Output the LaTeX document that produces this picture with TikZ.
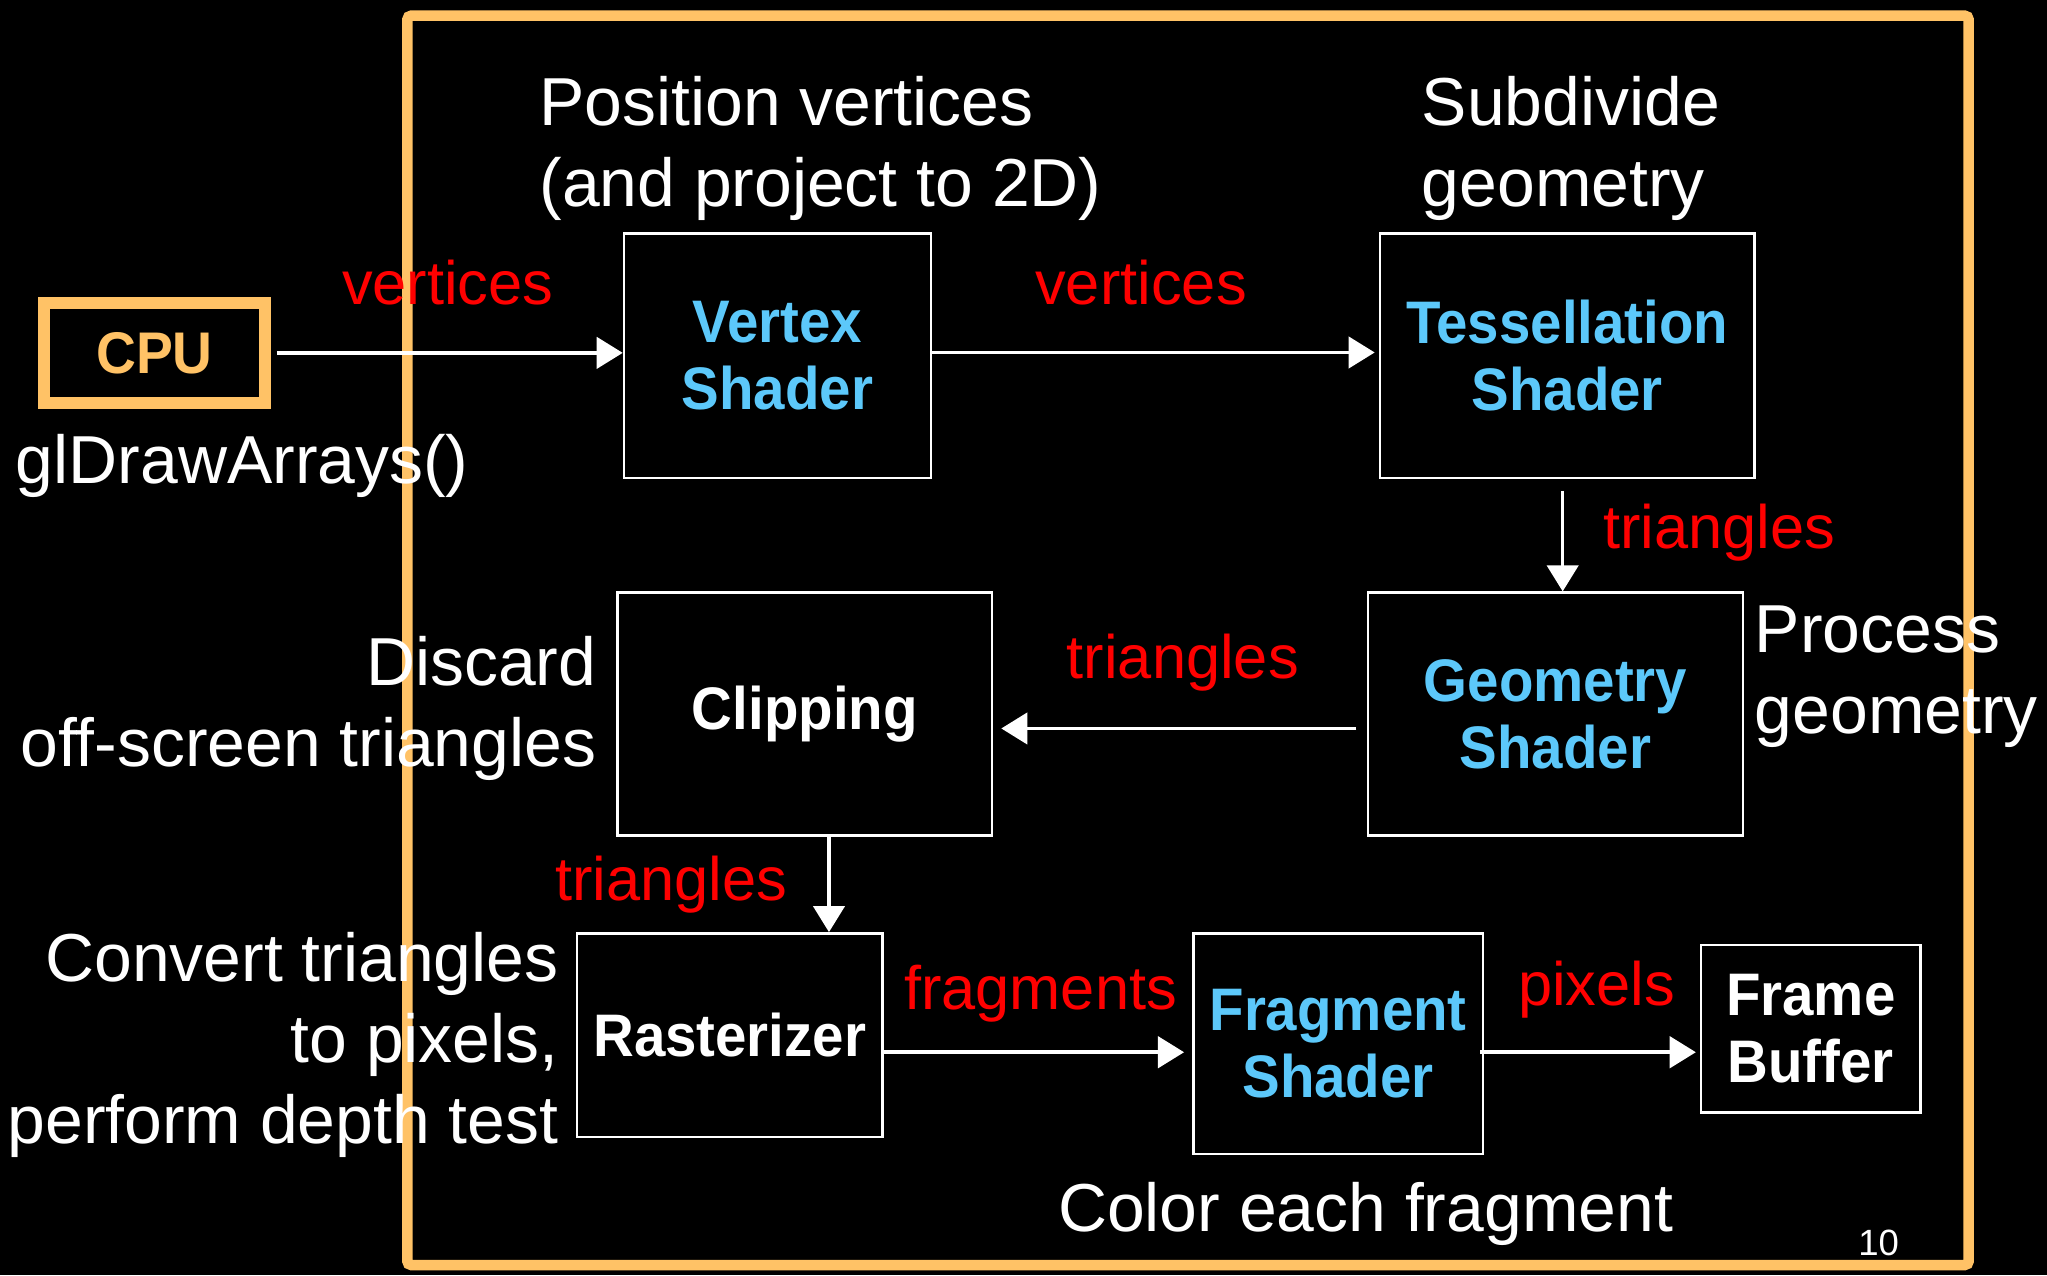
\documentclass[tikz,border=0pt]{standalone}
\usepackage{fontspec}
\setmainfont{Liberation Sans}
\newfontfamily\boxfont{Liberation Sans}[FakeStretch=0.94]
\usetikzlibrary{arrows.meta}
\definecolor{frameor}{RGB}{255,194,102}
\definecolor{skyb}{RGB}{92,200,250}
\definecolor{lblred}{RGB}{255,0,0}
\tikzset{
  box/.style={draw=white, line width=2pt, fill=black, align=center, inner sep=0pt,
    text=skyb, font=\boxfont\fontsize{46}{51}\bfseries\selectfont},
  wbox/.style={box, text=white},
  arr/.style={draw=white, line width=2.7pt, -{Triangle[length=20pt,width=24pt]}},
  lbl/.style={text=lblred, font=\fontsize{47}{56}\selectfont, inner sep=0pt, anchor=base},
  note/.style={text=white, font=\fontsize{52}{62}\selectfont, inner sep=0pt},
}
\begin{document}
\begin{tikzpicture}[x=1pt,y=-1pt]
\useasboundingbox (0,0) rectangle (1568,977);
\fill[black] (0,0) rectangle (1568,977);
% big frame
\draw[frameor, line width=8pt, rounded corners=3pt] (312,12) rectangle (1508,969);
% boxes
\node[draw=frameor, line width=9pt, fill=black, minimum width=169.5, minimum height=76.5, inner sep=0pt,
  text=frameor, font=\boxfont\fontsize{45}{50}\bfseries\selectfont] (cpu) at (118.3,270.3) {CPU};
\node[box, minimum width=235, minimum height=187] (vs) at (595.5,272.5) {Vertex\\Shader};
\node[box, minimum width=287, minimum height=187] (ts) at (1200.5,272.5) {Tessellation\\Shader};
\node[box, minimum width=287, minimum height=186] (gs) at (1191.5,547) {Geometry\\Shader};
\node[wbox, minimum width=287, minimum height=186] (clip) at (616.5,547) {Clipping};
\node[wbox, minimum width=234, minimum height=156] (rast) at (559,793) {Rasterizer};
\node[box, minimum width=222, minimum height=169] (fs) at (1025,799.5) {Fragment\\Shader};
\node[wbox, minimum width=168, minimum height=128] (fb) at (1387,788) {Frame\\Buffer};
% arrows
\draw[arr] ([xshift=4.5pt]cpu.east) -- (cpu.east -| vs.west);
\draw[arr] ([yshift=2.5pt]vs.east) -- ([yshift=2.5pt,xshift=-3pt]vs.east -| ts.west);
\draw[arr] ([xshift=-3.5pt,yshift=-9pt]ts.south) -- ([xshift=-3.5pt]ts.south |- gs.north);
\draw[arr] ([xshift=-8pt,yshift=-11pt]gs.west) -- ([xshift=6pt,yshift=-11pt]clip.east);
\draw[arr] ([xshift=18.5pt]clip.south) -- ([xshift=18.5pt]clip.south |- rast.north);
\draw[arr] ([yshift=-13pt]rast.east) -- ([yshift=-13pt,xshift=-6pt]rast.east -| fs.west);
\draw[arr] ([yshift=-6.5pt,xshift=-3pt]fs.east) -- ([yshift=-6.5pt,xshift=-3pt]fs.east -| fb.west);
% red labels
\node[lbl] (l1) at (343,233) {vertices};
\node[lbl] (l2) at (874,233) {vertices};
\node[lbl, anchor=base west] (l3) at (1228,420) {triangles};
\node[lbl] (l4) at (906,520) {triangles};
\node[lbl] (l5) at (514,690) {triangles};
\node[lbl] (l6) at (797,773) {fragments};
\node[lbl] (l7) at (1223,770) {pixels};
% notes
\node[note, anchor=base west] (n1) at (12,370) {glDrawArrays()};
\node[note, anchor=west, align=left] (n2) at (413,114) {Position vertices\\(and project to 2D)};
\node[note, anchor=west, align=left] (n3) at (1089,113.5) {Subdivide\\geometry};
\node[note, anchor=west, align=left] (n4) at (1344,518) {Process\\geometry};
\node[note, anchor=east, align=right] (n5) at (457,543) {Discard\\off-screen triangles};
\node[note, anchor=east, align=right] (n6) at (428,800.5) {Convert triangles\\to pixels,\\perform depth test};
\node[note, anchor=base] (n7) at (1046,943) {Color each fragment};
\node[text=white, font=\fontsize{28}{32}\selectfont, inner sep=0pt, anchor=base] (pg) at (1439,962) {10};
\end{tikzpicture}
\end{document}
